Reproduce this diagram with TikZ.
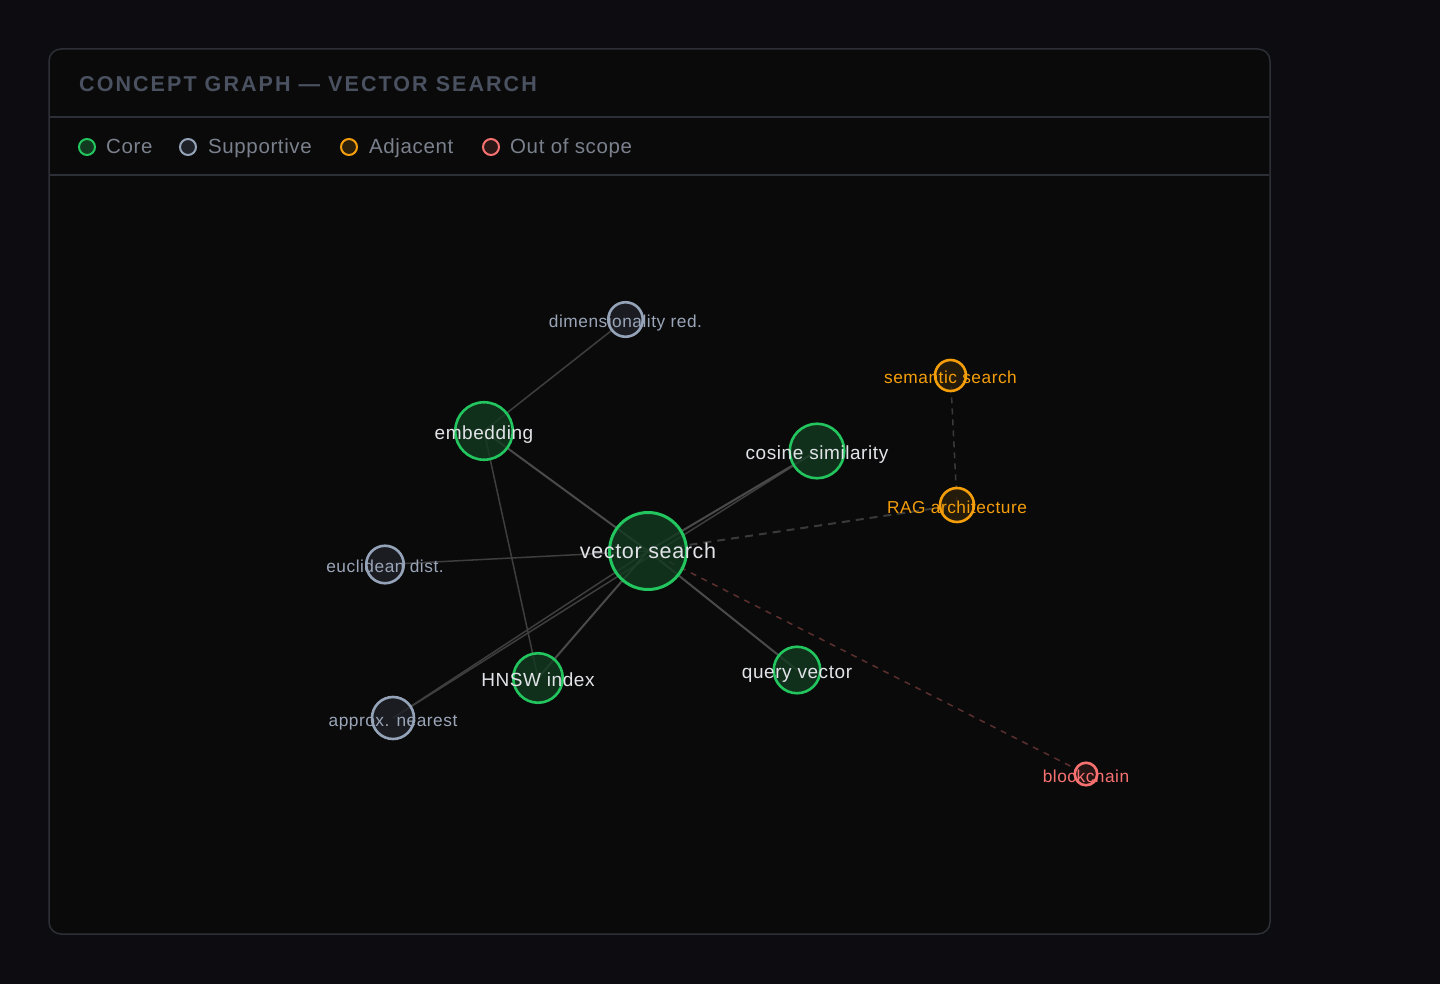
\documentclass[tikz,border=0pt]{standalone}
\usepackage{fontspec}
\setmainfont{Liberation Sans}
\newfontfamily\uifont[LetterSpace=3]{Liberation Sans}
\newfontfamily\ttlfont[LetterSpace=9.6]{Liberation Sans}
\definecolor{pagebg}{HTML}{0D0D11}
\definecolor{panelbg}{HTML}{0A0A0A}
\definecolor{panelline}{HTML}{2C2F36}
\definecolor{titlecol}{HTML}{4A5160}
\definecolor{legcol}{HTML}{7A818D}
\definecolor{coreS}{HTML}{22C55E}
\definecolor{coreF}{HTML}{123A20}
\definecolor{supS}{HTML}{94A3B8}
\definecolor{supF}{HTML}{1E2128}
\definecolor{adjS}{HTML}{F59E0B}
\definecolor{adjF}{HTML}{2C200B}
\definecolor{outS}{HTML}{F87171}
\definecolor{outF}{HTML}{2C1717}
\definecolor{coreT}{HTML}{E2E4E9}
\definecolor{supT}{HTML}{9AA5B8}
\definecolor{edgeA}{HTML}{4A4A4A}
\definecolor{edgeB}{HTML}{3E3E3E}
\definecolor{edgeD}{HTML}{3A3A3A}
\definecolor{edgeR}{HTML}{5C2F2F}
\tikzset{
  dot/.style={circle, inner sep=0pt, line width=2.6pt, fill opacity=0.8},
  coredot/.style={dot, draw=coreS, fill=coreF},
  supdot/.style={dot, draw=supS, fill=supF},
  adjdot/.style={dot, draw=adjS, fill=adjF},
  outdot/.style={dot, draw=outS, fill=outF},
  lbl/.style={anchor=base, inner sep=0pt, font=\uifont\fontsize{17.3}{19}\selectfont},
  corelbl/.style={lbl, text=coreT, font=\uifont\fontsize{19}{21}\selectfont},
  suplbl/.style={lbl, text=supT},
  adjlbl/.style={lbl, text=adjS},
  outlbl/.style={lbl, text=outS},
  legdot/.style={circle, inner sep=0pt, minimum size=16pt, line width=2pt},
  legtxt/.style={anchor=base west, inner sep=0pt, text=legcol, font=\uifont\fontsize{20.5}{22}\selectfont},
  edgemain/.style={draw=edgeA, line width=2pt},
  edgethin/.style={draw=edgeB, line width=1.5pt},
  edgedash/.style={draw=edgeD, line width=2pt, dash pattern=on 8pt off 6pt},
  edgedash2/.style={draw=edgeD, line width=1.5pt, dash pattern=on 6pt off 5pt},
  edgered/.style={draw=edgeR, line width=1.5pt, dash pattern=on 6pt off 6pt},
}
\begin{document}
\begin{tikzpicture}[x=1pt,y=-1pt]
\path[fill=pagebg] (0,0) rectangle (1440,984);
\useasboundingbox (0,0) rectangle (1440,984);
% panel
\draw[panelline, fill=panelbg, line width=1.5pt, rounded corners=12pt] (49,49) rectangle (1270,934);
\draw[panelline, line width=1.5pt] (50,117) -- (1269,117);
\draw[panelline, line width=1.5pt] (50,175) -- (1269,175);
\node[anchor=base west, inner sep=0pt, text=titlecol, font=\ttlfont\bfseries\fontsize{21.5}{24}\selectfont] (title) at (79,92) {CONCEPT GRAPH — VECTOR SEARCH};
% legend
\node[legdot, draw=coreS, fill=coreF] (lg1) at (87,147) {};
\node[legtxt] (lt1) at (106,154) {Core};
\node[legdot, draw=supS, fill=supF] (lg2) at (188,147) {};
\node[legtxt] (lt2) at (208,154) {Supportive};
\node[legdot, draw=adjS, fill=adjF] (lg3) at (349,147) {};
\node[legtxt] (lt3) at (369,154) {Adjacent};
\node[legdot, draw=outS, fill=outF] (lg4) at (491,147) {};
\node[legtxt] (lt4) at (510,154) {Out of scope};
% coordinates of nodes
\coordinate (cvs) at (648,551);
\coordinate (cemb) at (484,431);
\coordinate (ccos) at (817,451);
\coordinate (cqv) at (797,670);
\coordinate (chnsw) at (538,678);
\coordinate (cdim) at (625.5,319.5);
\coordinate (ceuc) at (385,564.5);
\coordinate (cann) at (393,718);
\coordinate (csem) at (950.5,375.5);
\coordinate (crag) at (957,505);
\coordinate (cblk) at (1086,774);
% edges
\draw[edgethin] (cemb) -- (cdim);
\draw[edgethin] (cemb) -- (chnsw);
\draw[edgethin] (cvs) -- (ceuc);
\draw[edgethin] (cann) -- (cvs);
\draw[edgethin] (cann) -- (ccos);
\draw[edgemain] (cvs) -- (cemb);
\draw[edgemain] (cvs) -- (ccos);
\draw[edgemain] (cvs) -- (chnsw);
\draw[edgemain] (cvs) -- (cqv);
\draw[edgedash] (cvs) -- (crag);
\draw[edgedash2] (csem) -- (crag);
\draw[edgered] (cvs) -- (cblk);
% nodes
\node[coredot, line width=3pt, minimum size=77pt] (vs) at (cvs) {};
\node[coredot, minimum size=57.5pt] (emb) at (cemb) {};
\node[coredot, minimum size=54.5pt] (cos) at (ccos) {};
\node[coredot, minimum size=46.5pt] (qv) at (cqv) {};
\node[coredot, minimum size=49.5pt] (hnsw) at (chnsw) {};
\node[supdot, minimum size=34.5pt] (dim) at (cdim) {};
\node[supdot, minimum size=37.5pt] (euc) at (ceuc) {};
\node[supdot, minimum size=42pt] (ann) at (cann) {};
\node[adjdot, minimum size=31pt] (sem) at (csem) {};
\node[adjdot, minimum size=34pt] (rag) at (crag) {};
\node[outdot, minimum size=22.5pt] (blk) at (cblk) {};
% labels
\node[corelbl, font=\uifont\fontsize{21.5}{24}\selectfont] (vs-l) at (648,558) {vector search};
\node[corelbl] (emb-l) at (484,439) {embedding};
\node[corelbl] (cos-l) at (817,459) {cosine similarity};
\node[corelbl] (qv-l) at (797,678) {query vector};
\node[corelbl] (hnsw-l) at (538,686) {HNSW index};
\node[suplbl] (dim-l) at (625.5,327.5) {dimensionality red.};
\node[suplbl] (euc-l) at (385,572.5) {euclidean dist.};
\node[suplbl] (ann-l) at (393,726) {approx. nearest};
\node[adjlbl] (sem-l) at (950.5,383.5) {semantic search};
\node[adjlbl] (rag-l) at (957,513) {RAG architecture};
\node[outlbl] (blk-l) at (1086,782.5) {blockchain};
\end{tikzpicture}
\end{document}
